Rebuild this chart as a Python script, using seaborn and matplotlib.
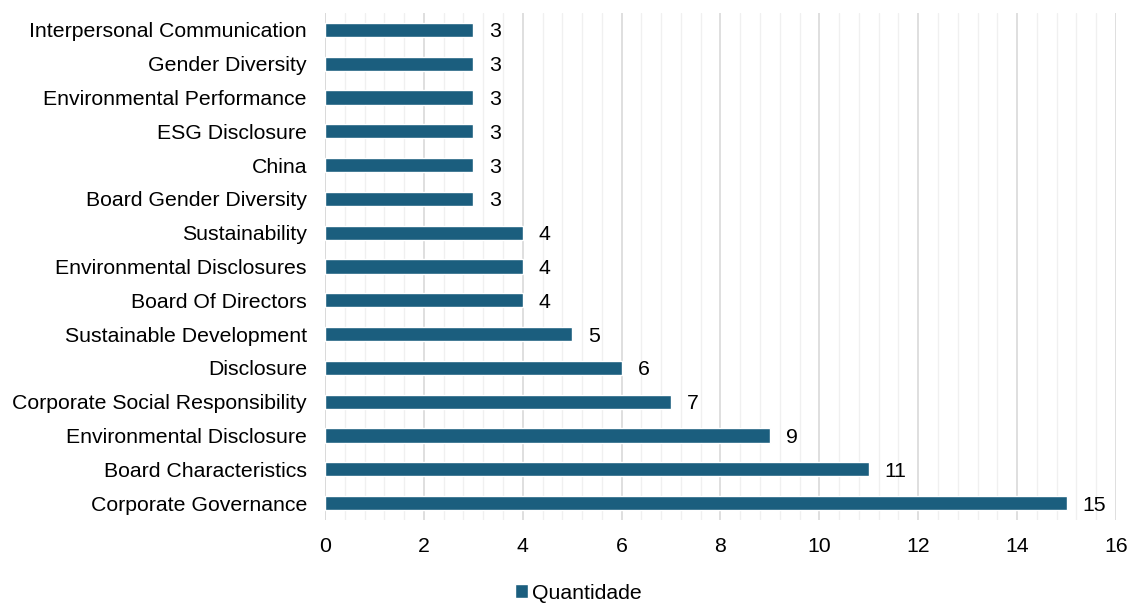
import matplotlib
matplotlib.use("Agg")
import matplotlib.pyplot as plt
import seaborn as sns
import pandas as pd
from matplotlib.ticker import MultipleLocator
from matplotlib.patches import Patch

categories = [
    "Interpersonal Communication", "Gender Diversity", "Environmental Performance",
    "ESG Disclosure", "China", "Board Gender Diversity", "Sustainability",
    "Environmental Disclosures", "Board Of Directors", "Sustainable Development",
    "Disclosure", "Corporate Social Responsibility", "Environmental Disclosure",
    "Board Characteristics", "Corporate Governance",
]
values = [3, 3, 3, 3, 3, 3, 4, 4, 4, 5, 6, 7, 9, 11, 15]
series_name = "Quantidade"

df = pd.DataFrame({"cat": categories, "val": values})

sns.set_theme(style="white")
plt.rcParams["font.family"] = ["Liberation Sans", "DejaVu Sans"]

FS = 15.3
color = "#1B5E7E"
fig = plt.figure(figsize=(11.35, 6.04), dpi=100)
ax = fig.add_axes([0.2863, 0.139, 0.6970, 0.8395])

sns.barplot(data=df, y="cat", x="val", orient="h", color=color, width=0.42,
            saturation=1, ax=ax, zorder=3)

ax.set_xlim(0, 16)
ax.xaxis.set_major_locator(MultipleLocator(2))
ax.xaxis.set_minor_locator(MultipleLocator(0.4))
ax.grid(which="major", axis="x", color="#d9d9d9", linewidth=1.2, zorder=0)
ax.grid(which="minor", axis="x", color="#f0f0f0", linewidth=1.0, zorder=0)
ax.grid(which="major", axis="y", visible=False)
ax.set_axisbelow(True)
for s in ax.spines.values():
    s.set_visible(False)
ax.axvline(0, color="#d9d9d9", linewidth=1.2, zorder=1)

ax.set_xlabel("")
ax.set_ylabel("")
ax.tick_params(axis="both", which="both", length=0, labelsize=FS, colors="black")
ax.tick_params(axis="x", pad=12)
ax.tick_params(axis="y", pad=13)

for i, v in enumerate(values):
    ax.text(v + 0.32, i, str(v), va="center_baseline", ha="left", fontsize=FS, color="black")

fig.legend(handles=[Patch(facecolor=color, label=series_name)], loc="center",
           bbox_to_anchor=(0.510, 0.018), frameon=False, fontsize=FS,
           handlelength=0.6, handleheight=0.6, handletextpad=0.2, labelcolor="black")

fig.savefig("out.png", dpi=100)
